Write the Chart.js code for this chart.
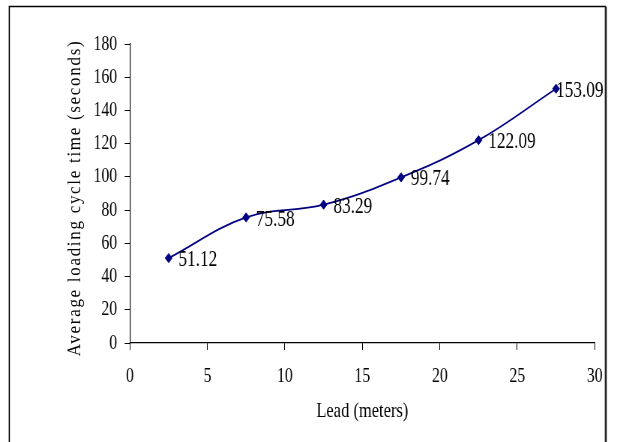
<!DOCTYPE html>
<html>
<head>
<meta charset="utf-8">
<script src="https://cdn.jsdelivr.net/npm/chart.js@4.4.1/dist/chart.umd.min.js"></script>
<style>
  html, body { margin: 0; padding: 0; background: #fff; overflow: hidden; }
  /* the drawing is laid out on a wider canvas and squeezed horizontally,
     which gives the narrow, tall serif look of the figure */
  #wrap { width: 823px; height: 442px; transform: scaleX(0.7497); transform-origin: 0 0; }
  canvas { display: block; }
</style>
</head>
<body>
<div id="wrap"><canvas id="chart" width="823" height="442"></canvas></div>
<script>
// Lead distance (m) and measured average loading cycle time (s)
const leadMeters = [2.5, 7.5, 12.5, 17.5, 22.5, 27.5];
const cycleSeconds = [51.12, 75.58, 83.29, 99.74, 122.09, 153.09];
const xTicks = [0, 5, 10, 15, 20, 25, 30];
const yTicks = [0, 20, 40, 60, 80, 100, 120, 140, 160, 180];

const SERIF = '"Liberation Serif", "Times New Roman", serif';
const NAVY = '#000080';
const FRAME_LEFT = 12.4;
const FRAME_TOP = 6.5;
const FRAME_RIGHT = 808;

// frame around the whole figure
const framePlugin = {
  id: 'frame',
  afterDraw(chart) {
    const ctx = chart.ctx;
    ctx.save();
    ctx.strokeStyle = '#000';
    ctx.lineWidth = 1.6;
    ctx.beginPath();
    ctx.moveTo(FRAME_LEFT, 470);
    ctx.lineTo(FRAME_LEFT, FRAME_TOP);
    ctx.lineTo(FRAME_RIGHT, FRAME_TOP);
    ctx.stroke();
    ctx.strokeStyle = '#222';
    ctx.lineWidth = 2.7;
    ctx.beginPath();
    ctx.moveTo(FRAME_RIGHT, FRAME_TOP);
    ctx.lineTo(FRAME_RIGHT, 470);
    ctx.stroke();
    ctx.restore();
  }
};

// rotated, letter-spaced y axis title
const yTitlePlugin = {
  id: 'yTitle',
  afterDraw(chart) {
    const ctx = chart.ctx;
    ctx.save();
    ctx.translate(100, 198);
    ctx.rotate(-Math.PI / 2);
    ctx.scale(0.68, 1);
    ctx.font = '25px ' + SERIF;
    ctx.letterSpacing = '2.5px';
    ctx.fillStyle = '#000';
    ctx.textAlign = 'center';
    ctx.textBaseline = 'middle';
    ctx.fillText('Average loading cycle time (seconds)', 0, 0);
    ctx.restore();
  }
};

// value labels to the right of each point
const valueLabelPlugin = {
  id: 'valueLabels',
  afterDatasetsDraw(chart) {
    const ctx = chart.ctx;
    const meta = chart.getDatasetMeta(0);
    const values = chart.data.datasets[0].data;
    ctx.save();
    ctx.font = '23px ' + SERIF;
    ctx.fillStyle = '#000';
    ctx.textAlign = 'left';
    ctx.textBaseline = 'middle';
    meta.data.forEach((pt, i) => {
      const text = values[i].y.toFixed(2);
      const w = ctx.measureText(text).width;
      const x = Math.min(pt.x + 13, FRAME_RIGHT - 3 - w);
      ctx.fillText(text, x, pt.y + 2);
    });
    ctx.restore();
  }
};

new Chart(document.getElementById('chart'), {
  type: 'scatter',
  data: {
    datasets: [{
      data: leadMeters.map((x, i) => ({ x: x, y: cycleSeconds[i] })),
      showLine: true,
      borderColor: NAVY,
      borderWidth: 1.8,
      tension: 0.4,
      pointStyle: 'rectRot',
      pointRadius: 4.6,
      pointBackgroundColor: NAVY,
      pointBorderColor: NAVY,
      pointBorderWidth: 1
    }]
  },
  options: {
    responsive: false,
    animation: false,
    devicePixelRatio: 1,
    layout: { padding: { top: 44, right: 29.7, left: 0, bottom: 0 } },
    plugins: { legend: { display: false }, tooltip: { enabled: false } },
    scales: {
      x: {
        type: 'linear',
        min: 0,
        max: 30,
        afterBuildTicks: s => { s.ticks = xTicks.map(v => ({ value: v })); },
        afterFit: s => { s.height = 99; },
        ticks: { color: '#000', font: { family: SERIF, size: 21 }, padding: 14, maxRotation: 0 },
        grid: { drawOnChartArea: false, color: '#000', tickLength: 7 },
        border: { color: '#000', width: 1.2 },
        title: {
          display: true,
          text: 'Lead (meters)',
          color: '#000',
          font: { family: SERIF, size: 22 },
          padding: { top: 6, bottom: 18 }
        }
      },
      y: {
        type: 'linear',
        min: 0,
        max: 180,
        afterBuildTicks: s => { s.ticks = yTicks.map(v => ({ value: v })); },
        afterFit: s => { s.width = 173.3; },
        ticks: { color: '#000', font: { family: SERIF, size: 21 }, padding: 10 },
        grid: { drawOnChartArea: false, color: '#000', tickLength: 7 },
        border: { color: '#000', width: 1.2 }
      }
    }
  },
  plugins: [framePlugin, yTitlePlugin, valueLabelPlugin]
});
</script>
</body>
</html>
